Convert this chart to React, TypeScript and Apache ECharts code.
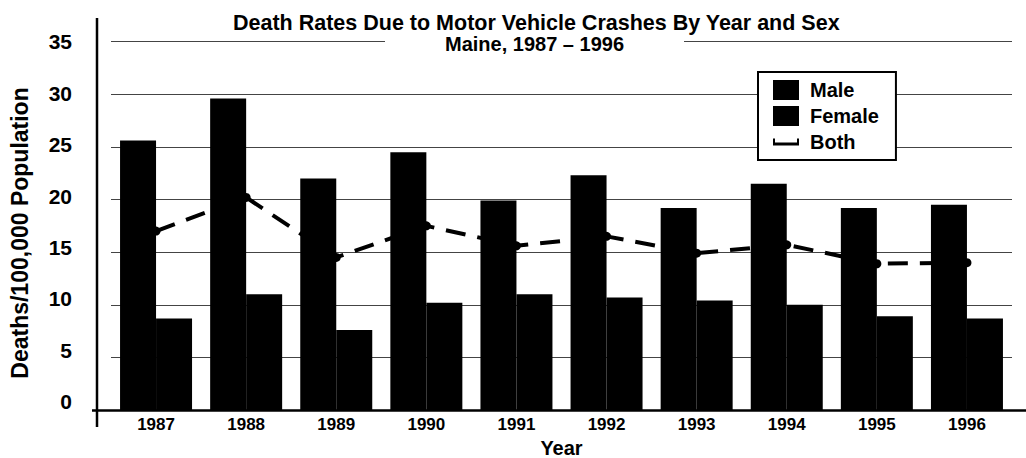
import React, { useEffect, useRef } from "react";
import * as echarts from "echarts";

const years = ["1987", "1988", "1989", "1990", "1991", "1992", "1993", "1994", "1995", "1996"];
const male = [25.6, 29.6, 22.0, 24.5, 19.9, 22.3, 19.2, 21.5, 19.2, 19.5];
const female = [8.7, 11.0, 7.6, 10.2, 11.0, 10.7, 10.4, 10.0, 8.9, 8.7];
const both = [17.0, 20.2, 14.5, 17.5, 15.6, 16.5, 14.9, 15.7, 13.9, 14.0];
const yTickValues = [0, 5, 10, 15, 20, 25, 30, 35];
const yTicks = { min: 0, max: 35, interval: 5 };
const yAxisTitle = "Deaths/100,000 Population";

const FONT = "'Liberation Sans', Arial, Helvetica, sans-serif";

// tick labels in the original sit slightly above their gridlines, more so near the bottom
const labelRich: Record<string, any> = {};
yTickValues.forEach((v) => {
  const shift = Math.round((yTicks.max - v) * 0.237 * 2);
  labelRich["v" + v] = {
    fontSize: 21,
    fontWeight: "bold",
    color: "#000",
    fontFamily: FONT,
    padding: [0, 0, shift, 0],
  };
});

export default function App() {
  const ref = useRef<HTMLDivElement>(null);
  useEffect(() => {
    if (!ref.current) return;
    const chart = echarts.init(ref.current, undefined, { renderer: "svg" });
    chart.setOption({
      animation: false,
      backgroundColor: "#fff",
      textStyle: { fontFamily: FONT },
      title: [
        {
          text: "Death Rates Due to Motor Vehicle Crashes By Year and Sex",
          left: 233,
          top: 12,
          padding: 0,
          textStyle: { fontSize: 21.5, fontWeight: "bold", color: "#000", fontFamily: FONT },
        },
        {
          text: "Maine, 1987 \u2013 1996",
          left: 385,
          top: 30,
          padding: [4, 60],
          backgroundColor: "#fff",
          textStyle: { fontSize: 20, fontWeight: "bold", color: "#000", fontFamily: FONT },
        },
      ],
      legend: {
        orient: "vertical",
        left: 758,
        top: 72,
        padding: [8, 17, 8, 15],
        itemWidth: 26,
        itemHeight: 20,
        itemGap: 6,
        backgroundColor: "#fff",
        borderColor: "#000",
        borderWidth: 2,
        borderRadius: 0,
        z: 10,
        textStyle: { fontSize: 20, fontWeight: "bold", color: "#000", fontFamily: FONT, padding: [0, 0, 0, 6] },
        data: [
          { name: "Male", icon: "rect" },
          { name: "Female", icon: "rect" },
          { name: "Both", icon: "path://M0,0 L2,0 L2,4 L24,4 L24,0 L26,0 L26,7 L0,7 Z" },
        ],
      },
      grid: { left: 111, right: 14, top: 41.7, bottom: 48, containLabel: false, outerBoundsMode: "none" },
      xAxis: {
        type: "category",
        data: years,
        axisLine: { show: false },
        axisTick: { show: false },
        axisLabel: {
          margin: 6,
          fontSize: 17,
          fontWeight: "bold",
          color: "#000",
          fontFamily: FONT,
        },
        name: "Year",
        nameLocation: "middle",
        nameGap: 26,
        nameTextStyle: { fontSize: 20, fontWeight: "bold", color: "#000", fontFamily: FONT },
      },
      yAxis: {
        type: "value",
        min: yTicks.min,
        max: yTicks.max,
        interval: yTicks.interval,
        axisLine: { show: false },
        axisTick: { show: false },
        splitLine: { lineStyle: { color: "#444", width: 1 } },
        axisLabel: {
          margin: 39,
          fontSize: 21,
          fontWeight: "bold",
          color: "#000",
          fontFamily: FONT,
          formatter: (v: number) => `{v${v}|${v}}`,
          rich: labelRich,
        },
      },
      series: [
        {
          name: "Male",
          type: "bar",
          data: male,
          barWidth: 36,
          barGap: "0%",
          itemStyle: { color: "#000" },
        },
        {
          name: "Female",
          type: "bar",
          data: female,
          barWidth: 36,
          barGap: "0%",
          itemStyle: { color: "#000" },
        },
        {
          name: "Both",
          type: "line",
          data: both,
          symbol: "circle",
          symbolSize: 9,
          z: 3,
          itemStyle: { color: "#000" },
          lineStyle: { color: "#000", width: 4, type: [20, 12] },
        },
      ],
      graphic: [
        { type: "line", shape: { x1: 97, y1: 18, x2: 97, y2: 427 }, style: { stroke: "#000", lineWidth: 2.5 }, z: 5 },
        { type: "line", shape: { x1: 92, y1: 410.5, x2: 1026, y2: 410.5 }, style: { stroke: "#000", lineWidth: 2.5 }, z: 5 },
        {
          type: "text",
          x: 20,
          y: 233,
          rotation: Math.PI / 2,
          style: {
            text: yAxisTitle,
            font: "bold 23px 'Liberation Sans', Arial, sans-serif",
            fill: "#000",
            textAlign: "center",
            textVerticalAlign: "middle",
          },
        },
      ],
    });
    return () => chart.dispose();
  }, []);
  return <div ref={ref} style={{ position: "fixed", left: 0, top: 0, width: 1026, height: 458 }} />;
}
